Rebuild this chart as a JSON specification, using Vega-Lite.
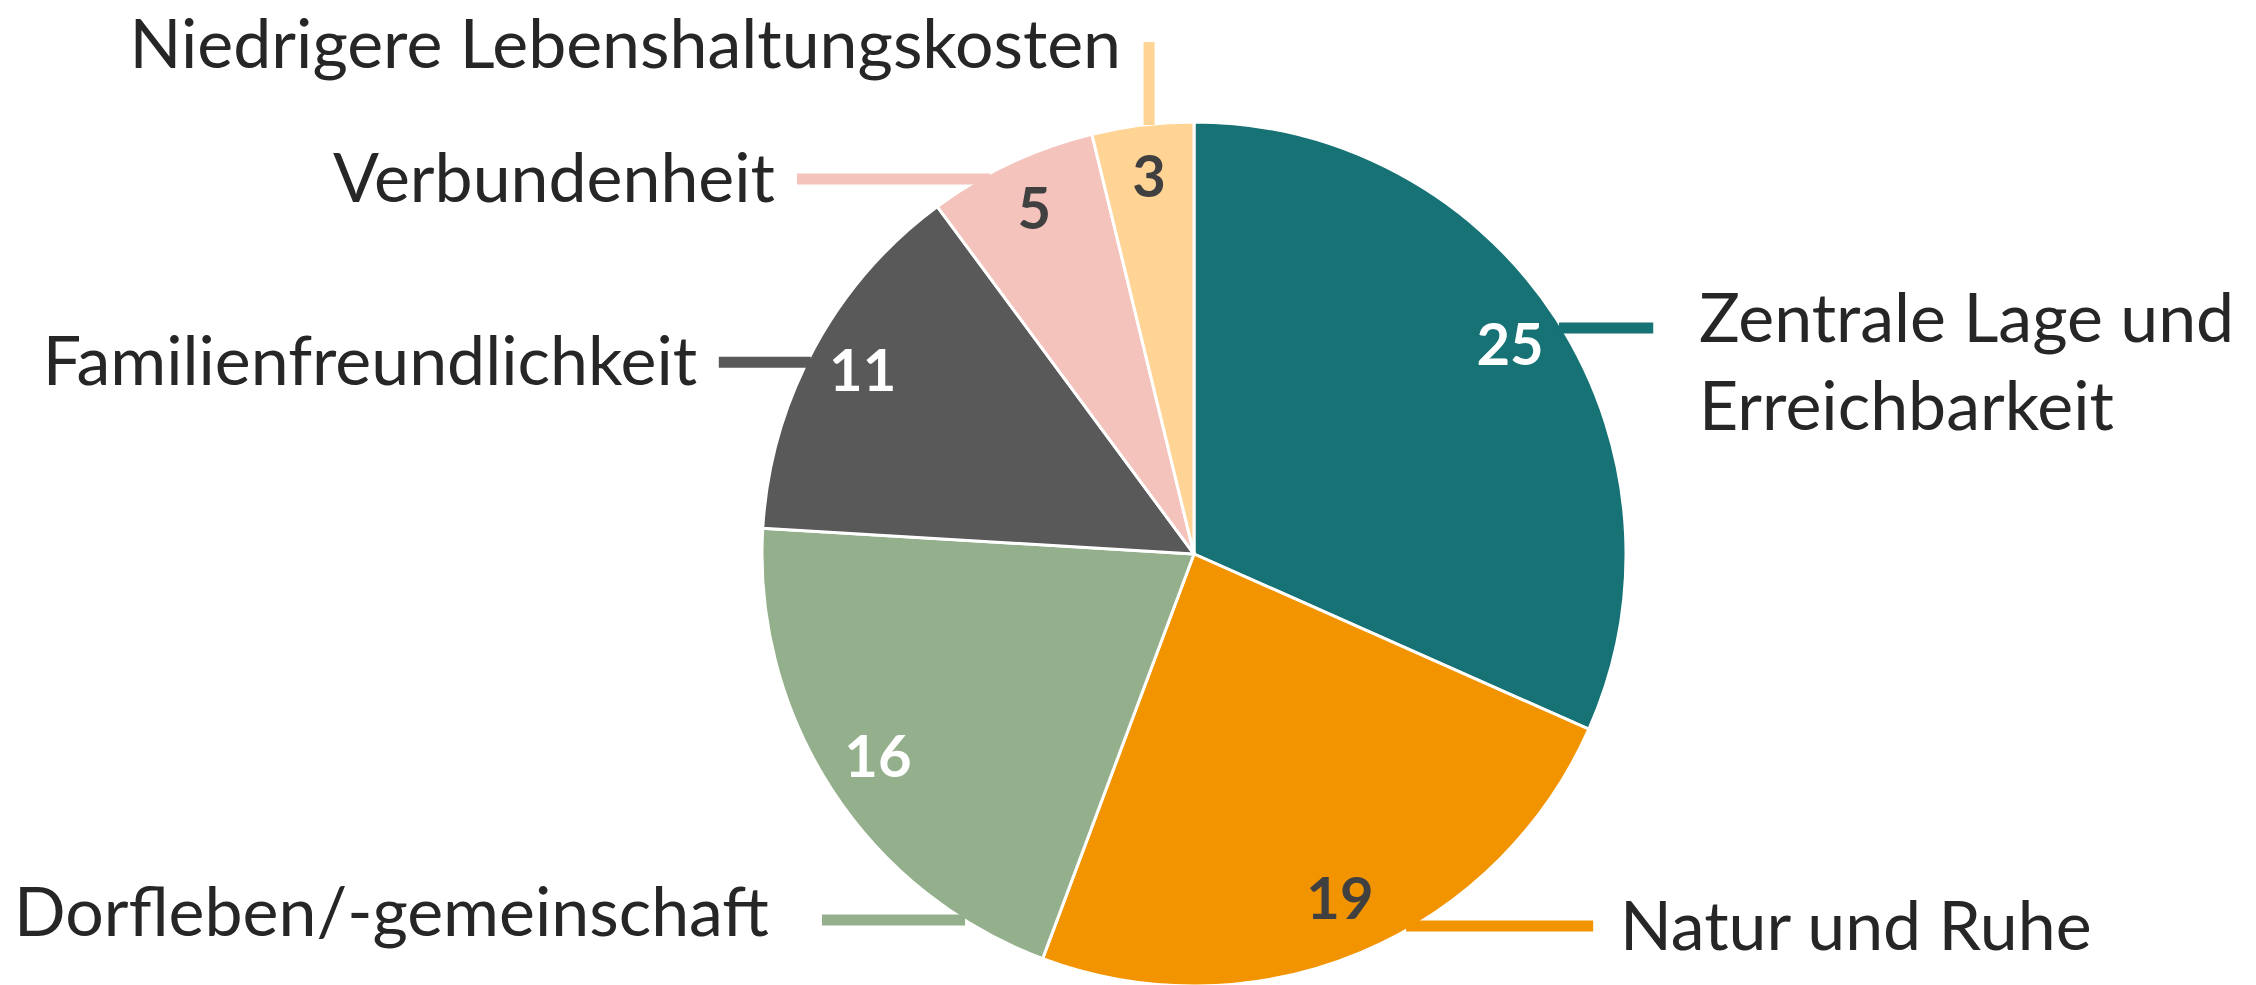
{
  "$schema": "https://vega.github.io/schema/vega-lite/v6.json",
  "width": 864,
  "height": 864,
  "autosize": {"type": "none"},
  "padding": {"left": 762, "top": 122, "right": 630, "bottom": 0},
  "background": "white",
  "config": {"view": {"stroke": null}},
  "data": {
    "values": [
      {"cat": "Zentrale Lage und Erreichbarkeit", "label": ["Zentrale Lage und", "Erreichbarkeit"], "value": 25, "lx": 1.169, "ly": 0.491, "x1": 0.845, "x2": 1.063, "y1": 0.523, "y2": 0.523},
      {"cat": "Natur und Ruhe", "label": ["Natur und Ruhe"], "value": 19, "lx": 0.986, "ly": -0.917, "x1": 0.491, "x2": 0.924, "y1": -0.861, "y2": -0.861},
      {"cat": "Dorfleben/-gemeinschaft", "label": ["Dorfleben/-gemeinschaft"], "value": 16, "lx": -0.984, "ly": -0.884, "x1": -0.861, "x2": -0.53, "y1": -0.847, "y2": -0.847},
      {"cat": "Familienfreundlichkeit", "label": ["Familienfreundlichkeit"], "value": 11, "lx": -1.15, "ly": 0.391, "x1": -1.1, "x2": -0.887, "y1": 0.444, "y2": 0.444},
      {"cat": "Verbundenheit", "label": ["Verbundenheit"], "value": 5, "lx": -0.97, "ly": 0.815, "x1": -0.919, "x2": -0.472, "y1": 0.868, "y2": 0.868},
      {"cat": "Niedrigere Lebenshaltungskosten", "label": ["Niedrigere Lebenshaltungskosten"], "value": 3, "lx": -0.169, "ly": 1.125, "x1": -0.104, "x2": -0.104, "y1": 1.185, "y2": 0.993}
    ]
  },
  "resolve": {"scale": {"color": "independent"}},
  "layer": [
    {
      "encoding": {
        "theta": {"field": "value", "type": "quantitative", "stack": true},
        "order": {"field": "value", "type": "quantitative", "sort": "descending"}
      },
      "resolve": {"scale": {"color": "independent"}},
      "layer": [
        {
          "mark": {"type": "arc", "stroke": "white", "strokeWidth": 3},
          "encoding": {
            "color": {
              "field": "cat", "type": "nominal", "legend": null,
              "scale": {
                "domain": ["Zentrale Lage und Erreichbarkeit", "Natur und Ruhe", "Dorfleben/-gemeinschaft", "Familienfreundlichkeit", "Verbundenheit", "Niedrigere Lebenshaltungskosten"],
                "range": ["#167274", "#F29400", "#93AF8B", "#595959", "#F4C3BC", "#FFD495"]
              }
            }
          }
        },
        {
          "mark": {"type": "text", "radius": 377, "font": "Lato", "fontWeight": "bold", "fontSize": 58},
          "encoding": {
            "text": {"field": "value", "type": "quantitative"},
            "color": {
              "field": "cat", "type": "nominal", "legend": null,
              "scale": {
                "domain": ["Zentrale Lage und Erreichbarkeit", "Natur und Ruhe", "Dorfleben/-gemeinschaft", "Familienfreundlichkeit", "Verbundenheit", "Niedrigere Lebenshaltungskosten"],
                "range": ["#ffffff", "#404040", "#ffffff", "#ffffff", "#404040", "#404040"]
              }
            }
          }
        }
      ]
    },
    {
      "mark": {"type": "rule", "strokeWidth": 11},
      "encoding": {
        "x": {"field": "x1", "type": "quantitative", "scale": {"domain": [-1, 1], "nice": false, "zero": false}, "axis": null},
        "x2": {"field": "x2"},
        "y": {"field": "y1", "type": "quantitative", "scale": {"domain": [-1, 1], "nice": false, "zero": false}, "axis": null},
        "y2": {"field": "y2"},
        "color": {
          "field": "cat", "type": "nominal", "legend": null,
          "scale": {
            "domain": ["Zentrale Lage und Erreichbarkeit", "Natur und Ruhe", "Dorfleben/-gemeinschaft", "Familienfreundlichkeit", "Verbundenheit", "Niedrigere Lebenshaltungskosten"],
            "range": ["#167274", "#F29400", "#93AF8B", "#595959", "#F4C3BC", "#FFD495"]
          }
        }
      }
    },
    {
      "transform": [{"filter": "datum.lx > 0"}],
      "mark": {"type": "text", "align": "left", "baseline": "alphabetic", "font": "Lato", "fontSize": 68, "lineHeight": 88, "color": "#262626"},
      "encoding": {
        "x": {"field": "lx", "type": "quantitative", "scale": {"domain": [-1, 1], "nice": false, "zero": false}, "axis": null},
        "y": {"field": "ly", "type": "quantitative", "scale": {"domain": [-1, 1], "nice": false, "zero": false}, "axis": null},
        "text": {"field": "label"}
      }
    },
    {
      "transform": [{"filter": "datum.lx <= 0"}],
      "mark": {"type": "text", "align": "right", "baseline": "alphabetic", "font": "Lato", "fontSize": 68, "color": "#262626"},
      "encoding": {
        "x": {"field": "lx", "type": "quantitative", "scale": {"domain": [-1, 1], "nice": false, "zero": false}, "axis": null},
        "y": {"field": "ly", "type": "quantitative", "scale": {"domain": [-1, 1], "nice": false, "zero": false}, "axis": null},
        "text": {"field": "label"}
      }
    }
  ]
}
